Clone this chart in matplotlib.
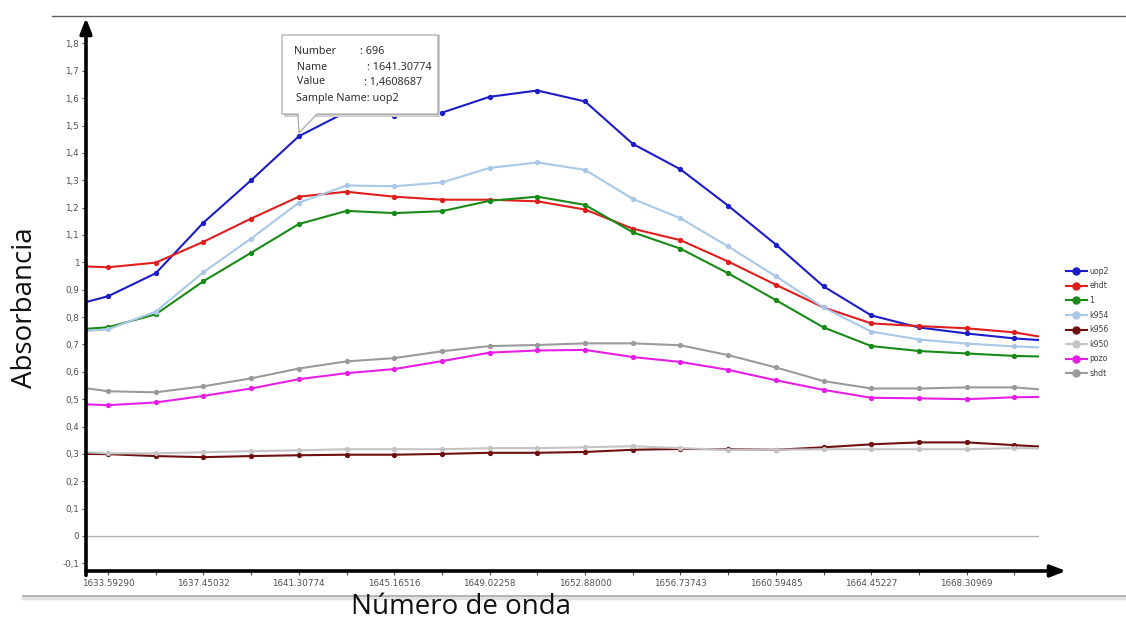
import numpy as np
import matplotlib
matplotlib.use("Agg")
import matplotlib.pyplot as plt
from matplotlib.lines import Line2D
from matplotlib.patches import Polygon, Rectangle
from matplotlib.ticker import FixedLocator, FuncFormatter

W, H = 1126, 622

# wavenumbers; first and last entries are the visible edges of the zoomed window
WN = [1632.7034, 1633.59290, 1635.52161, 1637.45032, 1639.37903, 1641.30774,
      1643.23645, 1645.16516, 1647.09387, 1649.02258, 1650.95129, 1652.88000,
      1654.80871, 1656.73743, 1658.66614, 1660.59485, 1662.52356, 1664.45227,
      1666.38098, 1668.30969, 1670.23840, 1671.2328]
LABELED = [1633.59290, 1637.45032, 1641.30774, 1645.16516, 1649.02258,
           1652.88000, 1656.73743, 1660.59485, 1664.45227, 1668.30969]

uop2 = [0.855, 0.876, 0.960, 1.145, 1.300, 1.461, 1.550, 1.535, 1.547, 1.605, 1.628,
        1.588, 1.433, 1.340, 1.207, 1.065, 0.912, 0.806, 0.762, 0.740, 0.722, 0.716]
ehdt = [0.985, 0.982, 0.999, 1.075, 1.160, 1.240, 1.258, 1.240, 1.229, 1.229, 1.223,
        1.193, 1.123, 1.081, 1.003, 0.918, 0.835, 0.777, 0.767, 0.759, 0.744, 0.729]
s1 = [0.757, 0.763, 0.810, 0.931, 1.035, 1.140, 1.188, 1.180, 1.187, 1.225, 1.240,
      1.210, 1.110, 1.050, 0.960, 0.862, 0.762, 0.694, 0.676, 0.667, 0.658, 0.656]
k954 = [0.749, 0.755, 0.820, 0.964, 1.087, 1.218, 1.281, 1.278, 1.292, 1.345, 1.365,
        1.338, 1.232, 1.161, 1.058, 0.949, 0.835, 0.747, 0.718, 0.703, 0.693, 0.689]
k956 = [0.300, 0.299, 0.292, 0.288, 0.292, 0.295, 0.297, 0.297, 0.300, 0.304, 0.304,
        0.307, 0.315, 0.318, 0.317, 0.315, 0.324, 0.335, 0.342, 0.342, 0.332, 0.327]
k950 = [0.306, 0.302, 0.302, 0.306, 0.310, 0.313, 0.317, 0.317, 0.317, 0.321, 0.321,
        0.324, 0.328, 0.321, 0.315, 0.315, 0.317, 0.317, 0.317, 0.317, 0.321, 0.320]
pozo = [0.481, 0.478, 0.488, 0.512, 0.539, 0.573, 0.595, 0.610, 0.639, 0.670, 0.678,
        0.680, 0.654, 0.636, 0.607, 0.569, 0.534, 0.505, 0.503, 0.500, 0.507, 0.508]
shdt = [0.540, 0.529, 0.525, 0.547, 0.576, 0.612, 0.638, 0.650, 0.675, 0.694, 0.698,
        0.704, 0.704, 0.697, 0.661, 0.616, 0.566, 0.539, 0.539, 0.543, 0.543, 0.536]

SERIES = [("uop2", uop2, "#1c1cc8"), ("ehdt", ehdt, "#e01e1e"), ("1", s1, "#178a17"),
          ("k954", k954, "#a9c8e8"), ("k956", k956, "#6e1010"), ("k950", k950, "#c4c4c4"),
          ("pozo", pozo, "#e61ee6"), ("shdt", shdt, "#9a9a9a")]


def px(x, y):
    return (x / W, 1 - y / H)


fig = plt.figure(figsize=(W / 100, H / 100), dpi=100)
ax = fig.add_axes([86 / W, (H - 571) / H, (1039 - 86) / W, (571 - 18) / H])

handles = []
for name, vals, c in SERIES:
    ln, = ax.plot(WN, vals, color=c, lw=1.5, marker="o", ms=2.8,
                  markevery=slice(1, -1), solid_joinstyle="round")
    handles.append(ln)

ax.axhline(0, color="#b0b0b0", lw=1)
ax.set_xlim(WN[0], WN[-1])
ax.set_ylim(-0.128, 1.893)

ax.yaxis.set_major_locator(FixedLocator(np.round(np.arange(-0.1, 1.81, 0.1), 1)))
def yfmt(v, _):
    s = f"{v:.1f}".replace(".", ",")
    return s[:-2] if s.endswith(",0") else s
ax.yaxis.set_major_formatter(FuncFormatter(yfmt))
ax.xaxis.set_major_locator(FixedLocator(LABELED))
ax.xaxis.set_minor_locator(FixedLocator(WN[1:-1]))
ax.xaxis.set_major_formatter(FuncFormatter(lambda v, _: f"{v:.5f}"))
ax.tick_params(axis="both", labelsize=6.3, labelcolor="#505050", colors="#505050",
               length=3, width=0.8, pad=3)
ax.tick_params(axis="x", which="minor", length=3, width=0.8, colors="#505050")
ax.tick_params(axis="y", pad=2)

for sp in ax.spines.values():
    sp.set_visible(False)

# axis arrows
ax.annotate("", xy=(0, 1.0), xytext=(0, -0.008), xycoords="axes fraction",
            arrowprops=dict(arrowstyle="-|>,head_length=0.9,head_width=0.35",
                            color="black", lw=2.6, shrinkA=0, shrinkB=0),
            annotation_clip=False)
ax.annotate("", xy=((1066 - 86) / (1039 - 86), 0), xytext=(0, 0), xycoords="axes fraction",
            arrowprops=dict(arrowstyle="-|>,head_length=0.9,head_width=0.35",
                            color="black", lw=2.6, shrinkA=0, shrinkB=0),
            annotation_clip=False)

# frame lines of the screenshot
fig.add_artist(Line2D([52 / W, 1.0], [1 - 16 / H] * 2, color="#606060", lw=1))
fig.add_artist(Line2D([23 / W, 1.0], [1 - 598 / H] * 2, color="#e2e2e2", lw=2.5))
fig.add_artist(Line2D([23 / W, 1.0], [1 - 596 / H] * 2, color="#a8a8a8", lw=1.2))

# tooltip
fig.add_artist(Rectangle(px(284, 117), (438 - 282) / W, (117 - 35) / H,
                         transform=fig.transFigure, facecolor="#cfcfcf", edgecolor="none"))
box = [(282, 35), (438, 35), (438, 114), (317, 114), (299, 133), (298, 114), (282, 114)]
fig.add_artist(Polygon([px(*p) for p in box], closed=True, transform=fig.transFigure,
                       facecolor="white", edgecolor="#a0a0a0", lw=0.8))
tip_rows = [("Number", ": 696", 294, 360, 52), (" Name", ": 1641.30774", 294, 367, 67),
            (" Value", ": 1,4608687", 294, 364, 82)]
for a, b, xa, xb, y in tip_rows:
    fig.text(*px(xa, y), a, fontsize=7.8, color="#303030", va="center", family="Noto Sans")
    fig.text(*px(xb, y), b, fontsize=7.8, color="#303030", va="center", family="Noto Sans")
fig.text(*px(296, 98), "Sample Name: uop2", fontsize=7.8, color="#303030", va="center",
         family="Noto Sans")

# axis titles
fig.text(*px(25, 308), "Absorbancia", rotation=90, fontsize=20, family="Open Sans",
         ha="center", va="center", color="#111111")
fig.text(*px(461, 607), "Número de onda", fontsize=20, family="Open Sans",
         ha="center", va="center", color="#111111")

fig.legend(handles, [s[0] for s in SERIES], loc="upper left",
           bbox_to_anchor=px(1062, 263), frameon=False, fontsize=5.6,
           handlelength=2.7, handletextpad=0.3, labelspacing=0.72, markerscale=1.8,
           borderpad=0, labelcolor="#404040")

plt.savefig("out.png", dpi=100)
plt.close()
